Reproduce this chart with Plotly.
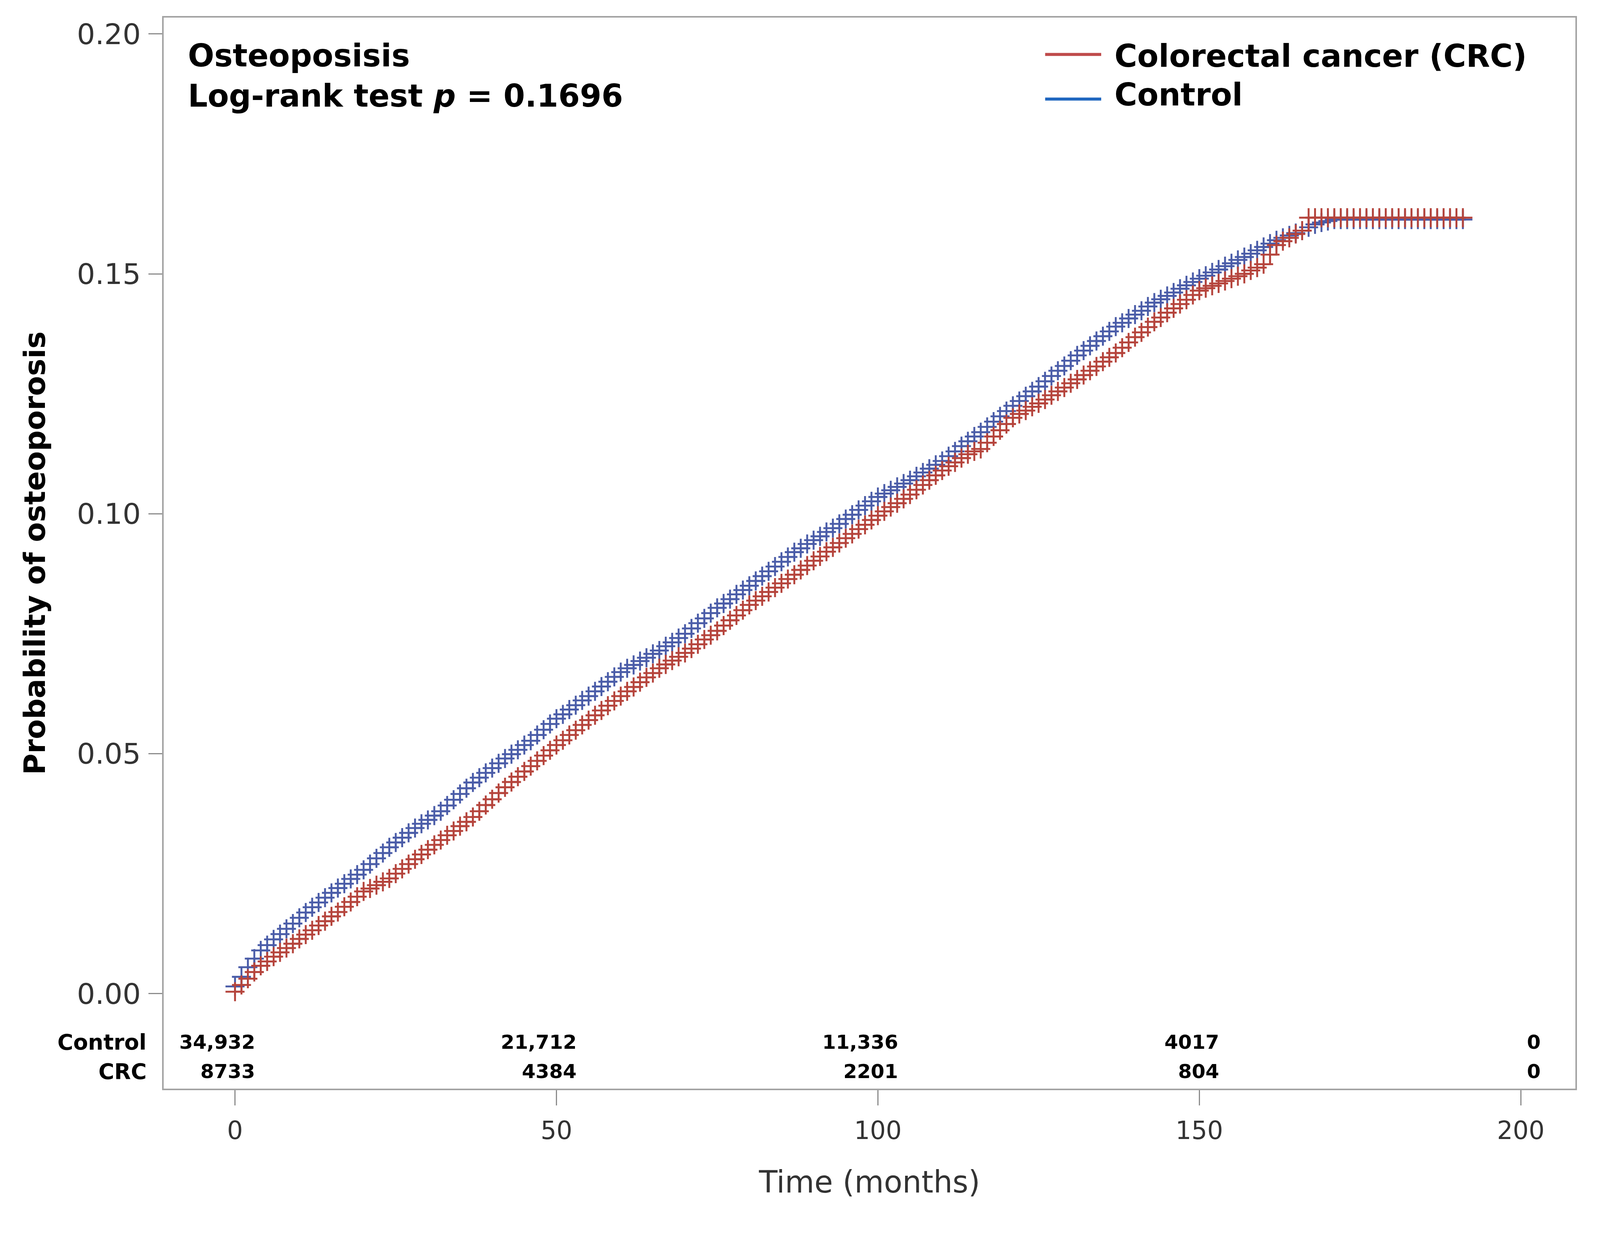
import plotly.graph_objects as go

# ---------------- data ----------------
months = [
    0, 1, 2, 3, 4, 5, 6, 7, 8, 9, 10, 11, 12, 13, 14, 15, 16, 17, 18, 19,
    20, 21, 22, 23, 24, 25, 26, 27, 28, 29, 30, 31, 32, 33, 34, 35, 36, 37, 38, 39,
    40, 41, 42, 43, 44, 45, 46, 47, 48, 49, 50, 51, 52, 53, 54, 55, 56, 57, 58, 59,
    60, 61, 62, 63, 64, 65, 66, 67, 68, 69, 70, 71, 72, 73, 74, 75, 76, 77, 78, 79,
    80, 81, 82, 83, 84, 85, 86, 87, 88, 89, 90, 91, 92, 93, 94, 95, 96, 97, 98, 99,
    100, 101, 102, 103, 104, 105, 106, 107, 108, 109, 110, 111, 112, 113, 114, 115, 116, 117, 118, 119,
    120, 121, 122, 123, 124, 125, 126, 127, 128, 129, 130, 131, 132, 133, 134, 135, 136, 137, 138, 139,
    140, 141, 142, 143, 144, 145, 146, 147, 148, 149, 150, 151, 152, 153, 154, 155, 156, 157, 158, 159,
    160, 161, 162, 163, 164, 165, 166, 167, 168, 169, 170, 171, 172, 173, 174, 175, 176, 177, 178, 179,
    180, 181, 182, 183, 184, 185, 186, 187, 188, 189, 190, 191,
]

control_prob = [
    0.0015, 0.0035, 0.0055, 0.0073, 0.0090, 0.0101, 0.0113, 0.0124, 0.0135, 0.0146,
    0.0158, 0.0169, 0.0180, 0.0190, 0.0200, 0.0210, 0.0220, 0.0229, 0.0239, 0.0248,
    0.0258, 0.0270, 0.0282, 0.0293, 0.0305, 0.0315, 0.0325, 0.0335, 0.0345, 0.0354,
    0.0362, 0.0371, 0.0380, 0.0392, 0.0404, 0.0416, 0.0428, 0.0440, 0.0450, 0.0460,
    0.0470, 0.0480, 0.0490, 0.0499, 0.0508, 0.0518, 0.0527, 0.0539, 0.0550, 0.0562,
    0.0573, 0.0582, 0.0592, 0.0601, 0.0611, 0.0620, 0.0630, 0.0640, 0.0650, 0.0660,
    0.0670, 0.0678, 0.0685, 0.0693, 0.0700, 0.0708, 0.0715, 0.0724, 0.0732, 0.0741,
    0.0750, 0.0761, 0.0772, 0.0782, 0.0793, 0.0804, 0.0813, 0.0822, 0.0832, 0.0841,
    0.0850, 0.0860, 0.0870, 0.0880, 0.0890, 0.0900, 0.0910, 0.0920, 0.0928, 0.0937,
    0.0945, 0.0953, 0.0962, 0.0970, 0.0979, 0.0989, 0.0998, 0.1008, 0.1017, 0.1026,
    0.1035, 0.1042, 0.1049, 0.1056, 0.1063, 0.1070, 0.1078, 0.1086, 0.1094, 0.1102,
    0.1110, 0.1120, 0.1130, 0.1141, 0.1151, 0.1161, 0.1170, 0.1181, 0.1192, 0.1203,
    0.1214, 0.1225, 0.1235, 0.1245, 0.1255, 0.1265, 0.1276, 0.1287, 0.1298, 0.1308,
    0.1319, 0.1330, 0.1340, 0.1350, 0.1360, 0.1370, 0.1380, 0.1390, 0.1398, 0.1407,
    0.1415, 0.1423, 0.1432, 0.1440, 0.1447, 0.1454, 0.1461, 0.1469, 0.1476, 0.1483,
    0.1490, 0.1496, 0.1503, 0.1509, 0.1516, 0.1522, 0.1529, 0.1535, 0.1542, 0.1549,
    0.1556, 0.1563, 0.1570, 0.1575, 0.1580, 0.1585, 0.1590, 0.1597, 0.1603, 0.1607,
    0.1610, 0.1613, 0.1613, 0.1613, 0.1613, 0.1613, 0.1613, 0.1613, 0.1613, 0.1613,
    0.1613, 0.1613, 0.1613, 0.1613, 0.1613, 0.1613, 0.1613, 0.1613, 0.1613, 0.1613,
    0.1613, 0.1613,
]

crc_prob = [
    0.0004, 0.0018, 0.0031, 0.0045, 0.0058, 0.0067, 0.0077, 0.0086, 0.0095, 0.0104,
    0.0114, 0.0123, 0.0132, 0.0142, 0.0151, 0.0161, 0.0170, 0.0181, 0.0191, 0.0202,
    0.0213, 0.0219, 0.0226, 0.0233, 0.0240, 0.0250, 0.0260, 0.0270, 0.0280, 0.0290,
    0.0300, 0.0310, 0.0320, 0.0330, 0.0339, 0.0349, 0.0358, 0.0368, 0.0380, 0.0393,
    0.0405, 0.0418, 0.0430, 0.0441, 0.0452, 0.0463, 0.0474, 0.0485, 0.0496, 0.0507,
    0.0518, 0.0528, 0.0539, 0.0549, 0.0560, 0.0570, 0.0580, 0.0590, 0.0600, 0.0610,
    0.0620, 0.0630, 0.0639, 0.0649, 0.0659, 0.0668, 0.0678, 0.0686, 0.0694, 0.0702,
    0.0710, 0.0719, 0.0728, 0.0738, 0.0747, 0.0756, 0.0767, 0.0778, 0.0788, 0.0799,
    0.0810, 0.0819, 0.0828, 0.0837, 0.0846, 0.0855, 0.0864, 0.0873, 0.0883, 0.0892,
    0.0902, 0.0911, 0.0921, 0.0930, 0.0939, 0.0949, 0.0958, 0.0968, 0.0977, 0.0987,
    0.0996, 0.1005, 0.1014, 0.1022, 0.1031, 0.1040, 0.1050, 0.1060, 0.1070, 0.1080,
    0.1090, 0.1099, 0.1107, 0.1116, 0.1124, 0.1130, 0.1135, 0.1148, 0.1161, 0.1174,
    0.1187, 0.1200, 0.1208, 0.1215, 0.1223, 0.1230, 0.1238, 0.1247, 0.1255, 0.1263,
    0.1272, 0.1280, 0.1289, 0.1298, 0.1307, 0.1317, 0.1326, 0.1335, 0.1346, 0.1357,
    0.1368, 0.1378, 0.1389, 0.1400, 0.1409, 0.1419, 0.1428, 0.1437, 0.1446, 0.1456,
    0.1465, 0.1470, 0.1475, 0.1480, 0.1485, 0.1490, 0.1495, 0.1500, 0.1507, 0.1513,
    0.1520, 0.1540, 0.1560, 0.1568, 0.1575, 0.1583, 0.1590, 0.1617, 0.1617, 0.1617,
    0.1617, 0.1617, 0.1617, 0.1617, 0.1617, 0.1617, 0.1617, 0.1617, 0.1617, 0.1617,
    0.1617, 0.1617, 0.1617, 0.1617, 0.1617, 0.1617, 0.1617, 0.1617, 0.1617, 0.1617,
    0.1617, 0.1617,
]

x_ticks = [0, 50, 100, 150, 200]
y_ticks = [0.00, 0.05, 0.10, 0.15, 0.20]

risk_times = [0, 50, 100, 150, 200]
risk_control = ["34,932", "21,712", "11,336", "4017", "0"]
risk_crc = ["8733", "4384", "2201", "804", "0"]

series_names = ["Colorectal cancer (CRC)", "Control"]
title_lines = ["Osteoposisis", "Log-rank test <i>p</i> = 0.1696"]

# ---------------- styling ----------------
RED = "#B5443C"
BLUE = "#4A5CA8"
LEG_RED = "#BF4B4B"
LEG_BLUE = "#1F66BF"
FRAME = "#A3A3A3"
TICKC = "#8C8C8C"
FONT = "DejaVu Sans"

# the page is photographed with a slight zoom; express pixel sizes in
# reference-image pixels and convert them to CSS pixels
S = 1.033
BODY = 8  # default page margin around the plot div


def px(v):
    return v / S


W = int(4222 / S) - 2 * BODY
H = int(3195 / S) - 2 * BODY
ML = px(433) - BODY
MT = px(46) - BODY
PW = px(3733)
PH = px(2833)
MR = W - ML - PW
MB = H - MT - PH

fig = go.Figure()

# Control drawn first (CRC sits on top of it, as in the reference)
fig.add_trace(go.Scatter(
    x=months, y=control_prob, mode="lines+markers", name=series_names[1],
    line=dict(color=BLUE, width=px(5), shape="hv"),
    marker=dict(symbol="cross-thin", size=px(36), color=BLUE,
                line=dict(color=BLUE, width=px(5))),
    showlegend=False,
))
fig.add_trace(go.Scatter(
    x=months, y=crc_prob, mode="lines+markers", name=series_names[0],
    line=dict(color=RED, width=px(5), shape="hv"),
    marker=dict(symbol="cross-thin", size=px(36), color=RED,
                line=dict(color=RED, width=px(5))),
    showlegend=False,
))

annotations = []

# title block (top-left)
annotations.append(dict(
    xref="paper", yref="paper", x=0.0166, y=0.982, xanchor="left", yanchor="top",
    text="<br>".join(title_lines), showarrow=False, align="left",
    font=dict(family=FONT, size=px(82), color="#000000", weight="bold"),
))

# legend (top-right), drawn with shapes + text
legend_rows = [
    (series_names[0], LEG_RED, 0.9656, 0.9640),
    (series_names[1], LEG_BLUE, 0.9239, 0.9280),
]
shapes = []
for name, col, yl, yt in legend_rows:
    shapes.append(dict(type="line", xref="paper", yref="paper",
                       x0=0.6244, x1=0.6641, y0=yl, y1=yl,
                       line=dict(color=col, width=px(8))))
    annotations.append(dict(
        xref="paper", yref="paper", x=0.6729, y=yt, xanchor="left", yanchor="middle",
        text=name, showarrow=False,
        font=dict(family=FONT, size=px(82), color="#000000", weight="bold"),
    ))

# numbers at risk table
row_y = {"Control": 0.0434, "CRC": 0.0162}
for label, vals in (("Control", risk_control), ("CRC", risk_crc)):
    annotations.append(dict(
        xref="paper", yref="paper", x=-0.0115, y=row_y[label],
        xanchor="right", yanchor="middle", text=label, showarrow=False,
        font=dict(family=FONT, size=px(57), color="#000000", weight="bold"),
    ))
    for t, v in zip(risk_times, vals):
        annotations.append(dict(
            xref="x", yref="paper", x=t, y=row_y[label], xshift=px(55),
            xanchor="right", yanchor="middle", text=v, showarrow=False,
            font=dict(family=FONT, size=px(52), color="#000000", weight="bold"),
        ))

fig.update_layout(
    width=W, height=H,
    margin=dict(l=ML, r=MR, t=MT, b=MB, pad=0),
    paper_bgcolor="white", plot_bgcolor="white",
    font=dict(family=FONT, color="#333333"),
    showlegend=False,
    annotations=annotations,
    shapes=shapes,
    xaxis=dict(
        range=[-11.1, 208.5], tickvals=x_ticks, ticks="outside", ticklen=px(40),
        tickwidth=px(3), tickcolor=TICKC, showline=True, linecolor=FRAME,
        linewidth=px(4), mirror=True, showgrid=False, zeroline=False,
        ticklabelstandoff=int(round(px(10))),
        tickfont=dict(family=FONT, size=px(66), color="#333333"),
        title=dict(text="Time (months)", standoff=px(72),
                   font=dict(family=FONT, size=px(80), color="#333333")),
    ),
    yaxis=dict(
        range=[-0.0198, 0.2034], tickvals=y_ticks, tickformat=".2f",
        ticks="outside", ticklen=px(36), tickwidth=px(3), tickcolor=TICKC,
        showline=True, linecolor=FRAME, linewidth=px(4), mirror=True,
        showgrid=False, zeroline=False, ticklabelstandoff=int(round(px(5))),
        tickfont=dict(family=FONT, size=px(76), color="#333333"),
        title=dict(text="Probability of osteoporosis", standoff=px(60),
                   font=dict(family=FONT, size=px(77), color="#000000", weight="bold")),
    ),
)

fig.write_html("out.html")
